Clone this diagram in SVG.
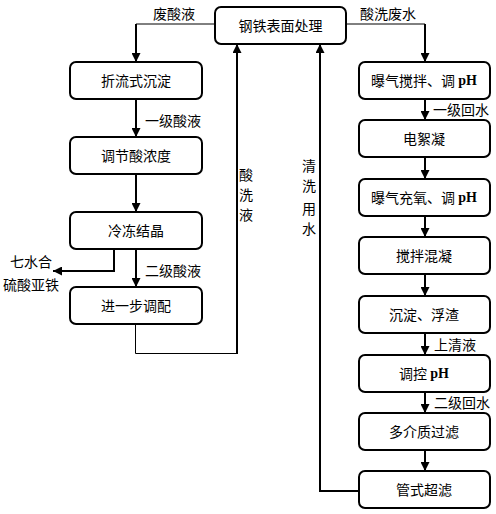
<svg xmlns="http://www.w3.org/2000/svg" width="496" height="514" viewBox="0 0 496 514">
<defs>
<marker id="ah" viewBox="0 0 10 10" refX="10" refY="5" markerWidth="9" markerHeight="9" markerUnits="userSpaceOnUse" orient="auto">
<path d="M0,0 L10,5 L0,10 z" fill="#000"/>
</marker>
<style>
.box{fill:#fff;stroke:#000;stroke-width:2}
.t{font-family:"Noto Sans CJK SC","Noto Sans CJK JP",sans-serif;font-size:14px;fill:#000;text-anchor:middle;dominant-baseline:central}
.l{font-family:"Noto Sans CJK SC","Noto Sans CJK JP",sans-serif;font-size:14px;fill:#000;dominant-baseline:central}
.ph{font-family:"Liberation Serif",serif;font-weight:bold}
.thin{fill:none;stroke:#000;stroke-width:1}
.thick{fill:none;stroke:#000;stroke-width:2}
</style>
</defs>
<rect width="496" height="514" fill="#fff"/>
<g id="connectors">
<path class="thin" d="M215,24 H136"/>
<path class="thick" d="M136,24 V62" marker-end="url(#ah)"/>
<path class="thick" d="M136,99 V137" marker-end="url(#ah)"/>
<path class="thick" d="M136,174 V212" marker-end="url(#ah)"/>
<path class="thick" d="M136,249 V287" marker-end="url(#ah)"/>
<path class="thick" d="M114,249 V271 H53" marker-end="url(#ah)"/>
<path class="thin" d="M135.5,324 V353.5 H237"/>
<path class="thick" d="M237,354 V44" marker-end="url(#ah)"/>
<path class="thin" d="M346,24 H425"/>
<path class="thick" d="M425,24 V62" marker-end="url(#ah)"/>
<path class="thick" d="M425,99 V120" marker-end="url(#ah)"/>
<path class="thick" d="M425,157 V179" marker-end="url(#ah)"/>
<path class="thick" d="M425,216 V237" marker-end="url(#ah)"/>
<path class="thick" d="M425,274 V296" marker-end="url(#ah)"/>
<path class="thick" d="M425,333 V355" marker-end="url(#ah)"/>
<path class="thick" d="M425,392 V413" marker-end="url(#ah)"/>
<path class="thick" d="M425,450 V471" marker-end="url(#ah)"/>
<path class="thick" d="M359,491 H320 V44" marker-end="url(#ah)"/>
<text class="l" x="153" y="13">废酸液</text>
<text class="l" x="360" y="13">酸洗废水</text>
<text class="l" x="145" y="120">一级酸液</text>
<text class="l" x="145" y="270">二级酸液</text>
<text class="l" x="433" y="109">一级回水</text>
<text class="l" x="434" y="344">上清液</text>
<text class="l" x="434" y="402">二级回水</text>
<text class="t" x="246" y="174">酸</text>
<text class="t" x="246" y="194">洗</text>
<text class="t" x="246" y="214">液</text>
<text class="t" x="309" y="165">清</text>
<text class="t" x="309" y="185">洗</text>
<text class="t" x="309" y="208">用</text>
<text class="t" x="309" y="228">水</text>
<text class="t" x="31" y="261">七水合</text>
<text class="t" x="31" y="284">硫酸亚铁</text>
</g>
<g id="n0"><rect class="box" x="215" y="7" width="131" height="37" rx="6"/><text class="t" x="280.5" y="25">钢铁表面处理</text></g>
<g id="n1"><rect class="box" x="70" y="62" width="132" height="37" rx="6"/><text class="t" x="136" y="80">折流式沉淀</text></g>
<g id="n2"><rect class="box" x="70" y="137" width="132" height="37" rx="6"/><text class="t" x="136" y="155">调节酸浓度</text></g>
<g id="n3"><rect class="box" x="70" y="212" width="132" height="37" rx="6"/><text class="t" x="136" y="230">冷冻结晶</text></g>
<g id="n4"><rect class="box" x="70" y="287" width="132" height="37" rx="6"/><text class="t" x="136" y="305">进一步调配</text></g>
<g id="r1"><rect class="box" x="359" y="62" width="131" height="37" rx="6"/><text class="t" x="424" y="80">曝气搅拌、调 <tspan class="ph">pH</tspan></text></g>
<g id="r2"><rect class="box" x="359" y="120" width="131" height="37" rx="6"/><text class="t" x="424" y="138">电絮凝</text></g>
<g id="r3"><rect class="box" x="359" y="179" width="131" height="37" rx="6"/><text class="t" x="424" y="197">曝气充氧、调 <tspan class="ph">pH</tspan></text></g>
<g id="r4"><rect class="box" x="359" y="237" width="131" height="37" rx="6"/><text class="t" x="424" y="255">搅拌混凝</text></g>
<g id="r5"><rect class="box" x="359" y="296" width="131" height="37" rx="6"/><text class="t" x="424" y="314">沉淀、浮渣</text></g>
<g id="r6"><rect class="box" x="359" y="355" width="131" height="37" rx="6"/><text class="t" x="424" y="373">调控 <tspan class="ph">pH</tspan></text></g>
<g id="r7"><rect class="box" x="359" y="413" width="131" height="37" rx="6"/><text class="t" x="424" y="431">多介质过滤</text></g>
<g id="r8"><rect class="box" x="359" y="471" width="131" height="37" rx="6"/><text class="t" x="424" y="489">管式超滤</text></g>
</svg>
